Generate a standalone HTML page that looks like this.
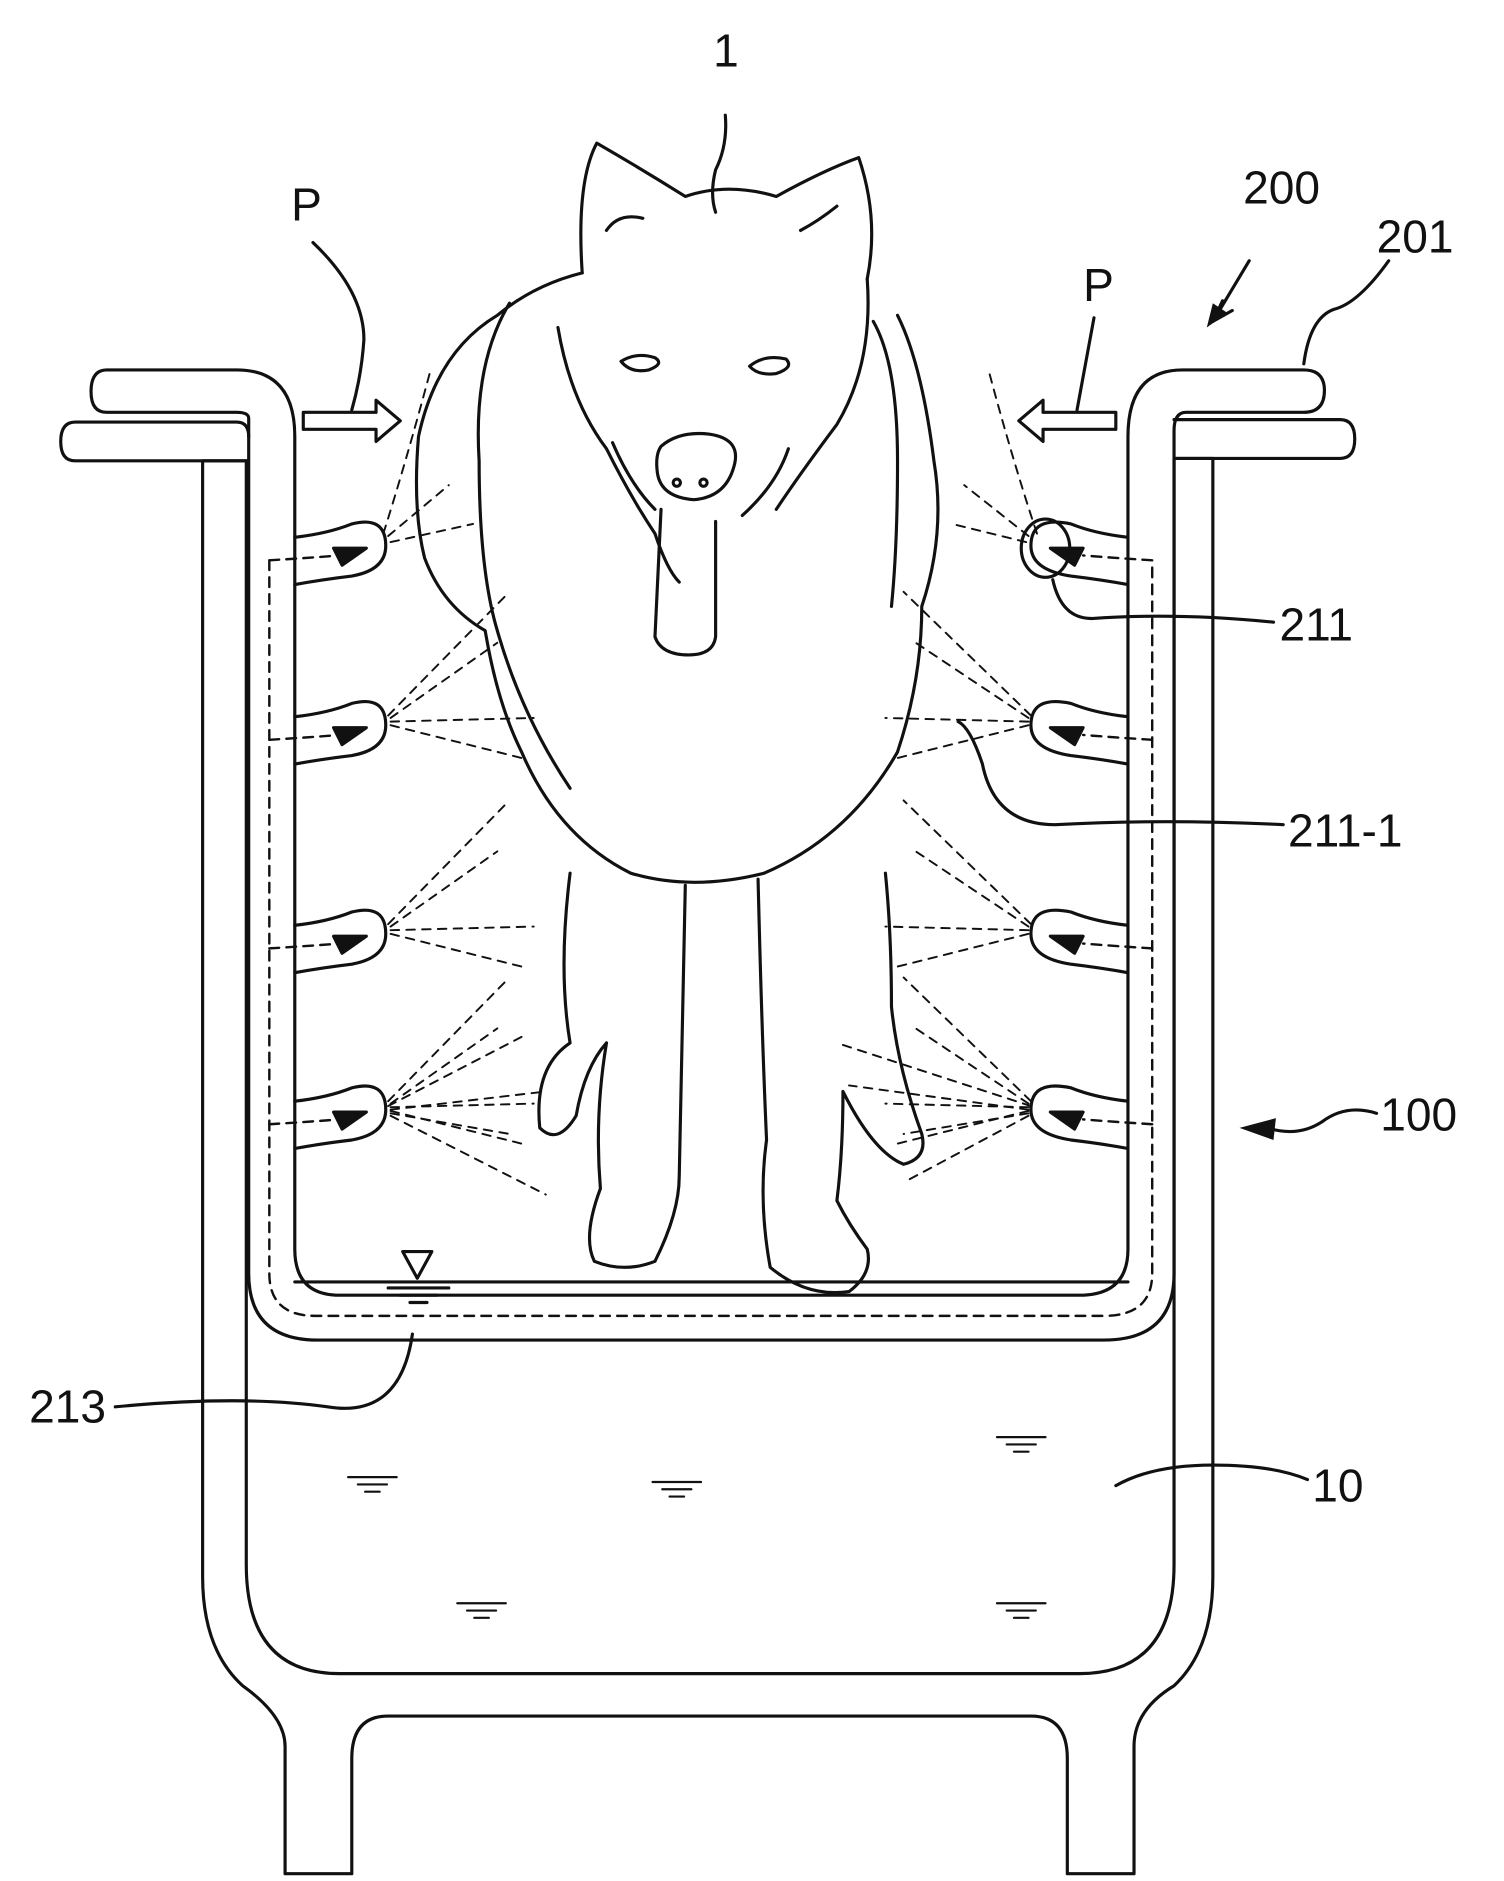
<!DOCTYPE html>
<html><head><meta charset="utf-8"><style>
html,body{margin:0;padding:0;background:#fff}
svg{display:block}
text{font-family:"Liberation Sans",sans-serif;font-size:38px;fill:#111}
</style></head><body>
<svg width="1504" height="1881" viewBox="0 0 1240 1551" xmlns="http://www.w3.org/2000/svg">
<g fill="none" stroke="#111" stroke-width="2.6" stroke-linecap="round" stroke-linejoin="round">
<!-- outer tub 100 -->
<path d="M203 380 L167 380 L167 1300 Q167 1360 200 1390 Q235 1415 235 1440 L235 1545 L290 1545 L290 1450 Q290 1415 320 1415 L850 1415 Q880 1415 880 1450 L880 1545 L935 1545 L935 1440 Q935 1410 968 1390 Q1000 1360 1000 1300 L1000 378 L968 378"/>
<path d="M203 380 L203 1290 Q203 1380 280 1380 L890 1380 Q968 1380 968 1290 L968 378"/>
<path d="M203 380 L62 380 Q50 380 50 364 Q50 348 62 348 L195 348 Q205 348 205 360"/>
<path d="M968 378 L1105 378 Q1117 378 1117 362 Q1117 346 1105 346 L968 346"/>
<!-- basket 200 -->
<path d="M205 840 L205 345 Q205 340 195 340 L88 340 Q75 340 75 323 Q75 305 88 305 L195 305 Q243 305 243 360 L243 1030 Q243 1068 280 1068 L890 1068 Q930 1068 930 1030 L930 360 Q930 305 975 305 L1075 305 Q1092 305 1092 322 Q1092 340 1075 340 L978 340 Q968 340 968 355 L968 1050 Q968 1105 910 1105 L262 1105 Q205 1105 205 1050 L205 840"/>
<line x1="243" y1="1057" x2="930" y2="1057"/>
<path d="M222 462 L222 1050 Q222 1085 260 1085 L910 1085 Q950 1085 950 1050 L950 462" stroke-dasharray="8 6" stroke-width="2"/>
<!-- water level symbol -->
<path d="M332 1032 L356 1032 L344 1054 Z"/>
<line x1="320" y1="1062" x2="370" y2="1062"/><line x1="330" y1="1068" x2="360" y2="1068"/><line x1="338" y1="1074" x2="352" y2="1074"/>
<g stroke-width="1.8">
<line x1="822" y1="1185" x2="862" y2="1185"/><line x1="830" y1="1191" x2="854" y2="1191"/><line x1="836" y1="1197" x2="848" y2="1197"/>
<line x1="287" y1="1218" x2="327" y2="1218"/><line x1="295" y1="1224" x2="319" y2="1224"/><line x1="301" y1="1230" x2="313" y2="1230"/>
<line x1="538" y1="1222" x2="578" y2="1222"/><line x1="546" y1="1228" x2="570" y2="1228"/><line x1="552" y1="1234" x2="564" y2="1234"/>
<line x1="377" y1="1322" x2="417" y2="1322"/><line x1="385" y1="1328" x2="409" y2="1328"/><line x1="391" y1="1334" x2="403" y2="1334"/>
<line x1="822" y1="1322" x2="862" y2="1322"/><line x1="830" y1="1328" x2="854" y2="1328"/><line x1="836" y1="1334" x2="848" y2="1334"/>
</g>
<!-- nozzles left -->
<g id="nl">
<path d="M243 443 Q270 440 290 432 Q318 425 318 450 Q318 470 290 475 Q265 478 243 482"/>
<path d="M222 462 Q255 460 280 458" stroke-dasharray="8 6" stroke-width="2"/>
<path d="M275 452 L302 452 L282 466 Z" fill="#111"/>
</g>
<use href="#nl" y="148"/><use href="#nl" y="320"/><use href="#nl" y="465"/>
<g id="nr">
<path d="M930 443 Q903 440 883 432 Q850 425 850 450 Q850 470 883 475 Q908 478 930 482"/>
<path d="M950 462 Q918 460 893 458" stroke-dasharray="8 6" stroke-width="2"/>
<path d="M893 452 L866 452 L886 466 Z" fill="#111"/>
</g>
<use href="#nr" y="148"/><use href="#nr" y="320"/><use href="#nr" y="465"/>
<ellipse cx="862" cy="452" rx="20" ry="24"/>
<!-- spray dashed -->
<g stroke-dasharray="7 6" stroke-width="1.6">
<path d="M316 440 Q335 380 355 305"/><path d="M320 442 L370 400"/><path d="M322 447 L390 432"/>
<path d="M855 440 Q835 380 815 305"/><path d="M848 442 L795 400"/><path d="M846 447 L785 432"/>
<g id="sl"><path d="M320 590 L420 488"/><path d="M322 592 L410 530"/><path d="M322 595 L440 592"/><path d="M322 598 L430 625"/></g>
<use href="#sl" y="172"/><use href="#sl" y="318"/>
<path d="M320 912 L430 855"/><path d="M322 915 L450 900"/><path d="M322 918 L420 935"/><path d="M322 920 L450 985"/>
<g id="sr"><path d="M850 590 L745 488"/><path d="M848 592 L755 530"/><path d="M848 595 L730 592"/><path d="M848 598 L740 625"/></g>
<use href="#sr" y="172"/><use href="#sr" y="318"/>
<path d="M850 912 L690 860"/><path d="M848 915 L700 895"/><path d="M848 918 L745 935"/><path d="M848 920 L745 975"/>
</g>
<!-- arrows P -->
<path d="M250 340 L310 340 L310 330 L330 347 L310 364 L310 354 L250 354 Z"/>
<path d="M920 340 L860 340 L860 330 L840 347 L860 364 L860 354 L920 354 Z"/>
<!-- dog -->
<path d="M480 225 Q475 150 492 118 Q530 140 565 162 Q600 150 640 162 Q680 140 708 130 Q725 180 715 230"/>
<path d="M500 190 Q510 175 530 180 M690 170 Q675 182 660 190"/>
<path d="M480 225 Q440 235 410 260 Q360 290 345 360 Q340 420 350 460 Q365 500 400 520 Q410 580 430 620 Q460 690 520 720 Q570 735 630 720 Q700 690 740 620 Q760 560 760 500 Q780 440 770 380 Q760 300 740 260"/>
<path d="M460 270 Q470 330 500 370 Q520 410 540 440 Q550 470 560 480"/>
<path d="M715 230 Q720 300 690 350 Q660 390 640 420"/>
<path d="M420 250 Q390 300 395 380 Q395 470 410 520 Q430 590 470 650"/>
<path d="M720 265 Q740 300 740 380 Q740 450 735 500"/>
<path d="M512 298 Q525 290 540 295 Q548 300 535 305 Q520 308 512 298 Z"/>
<path d="M618 302 Q630 292 648 296 Q655 303 640 308 Q625 310 618 302 Z"/>
<path d="M545 368 Q560 355 585 358 Q612 362 605 385 Q598 410 572 412 Q545 410 542 390 Q540 375 545 368 Z"/>
<circle cx="558" cy="398" r="3"/><circle cx="580" cy="398" r="3"/>
<path d="M505 365 Q520 400 540 420"/><path d="M650 370 Q640 400 612 425"/>
<path d="M545 420 L540 525 Q545 540 568 540 Q588 540 590 525 L590 430"/>
<path d="M470 720 Q460 800 470 860 Q440 880 445 930 Q460 945 475 920 Q482 880 500 860"/>
<path d="M500 860 Q490 920 495 980 Q480 1020 490 1040 Q515 1050 540 1040 Q560 1000 560 970 L565 730"/>
<path d="M625 725 Q628 850 632 940 Q625 990 635 1045 Q665 1070 700 1065 Q720 1050 715 1030 Q700 1010 690 990 Q695 950 695 900 Q720 950 745 960 Q765 955 760 935 Q740 880 735 830 Q735 770 730 720"/>
<!-- leaders -->
<path d="M598 95 Q600 120 590 140 Q585 160 590 175"/>
<path d="M258 200 Q300 240 300 280 Q298 310 290 338"/>
<path d="M902 262 Q895 300 888 338"/>
<path d="M1030 215 L1000 265"/><path d="M1000 265 L1008 248 M1000 265 L1016 256"/>
<path d="M1145 215 Q1120 250 1100 255 Q1080 262 1075 300"/>
<path d="M1050 513 Q970 505 900 510 Q875 510 868 478"/>
<path d="M1058 680 Q960 675 870 680 Q820 680 810 630 Q800 600 790 595"/>
<path d="M1135 918 Q1110 910 1090 925 Q1070 938 1045 930"/>
<path d="M1078 1220 Q1050 1208 1000 1208 Q950 1208 920 1225"/>
<path d="M95 1160 Q200 1150 270 1160 Q330 1170 340 1100"/>
</g>
<path d="M1022 930 L1052 922 L1050 940 Z" fill="#111"/>
<path d="M995 270 L1000 250 L1012 258 Z" fill="#111"/>
<text x="588" y="55">1</text>
<text x="240" y="182">P</text>
<text x="893" y="248">P</text>
<text x="1025" y="168">200</text>
<text x="1135" y="208">201</text>
<text x="1055" y="528">211</text>
<text x="1062" y="698">211-1</text>
<text x="1138" y="932">100</text>
<text x="24" y="1173">213</text>
<text x="1082" y="1238">10</text>
</svg>
</body></html>
